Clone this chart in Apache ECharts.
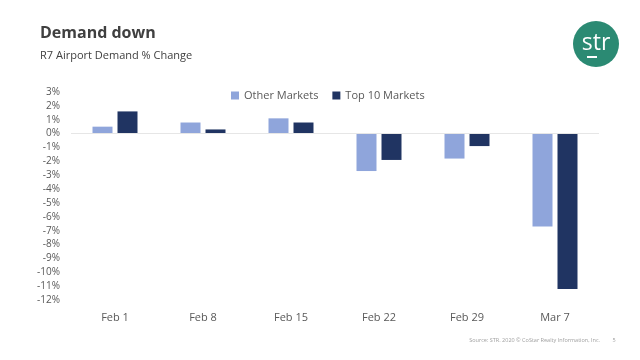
<!DOCTYPE html>
<html>
<head>
<meta charset="utf-8">
<script src="https://cdn.jsdelivr.net/npm/echarts@6/dist/echarts.min.js"></script>
<style>html,body{margin:0;padding:0;background:#fff;}#c{width:640px;height:360px;}</style>
</head>
<body>
<div id="c"></div>
<script>
var categories = ['Feb 1', 'Feb 8', 'Feb 15', 'Feb 22', 'Feb 29', 'Mar 7'];
var otherMarkets = [0.5, 0.8, 1.1, -2.7, -1.8, -6.7];
var top10Markets = [1.6, 0.3, 0.8, -1.9, -0.9, -11.2];
var seriesNames = ['Other Markets', 'Top 10 Markets'];

var chart = echarts.init(document.getElementById('c'));
var font = 'Open Sans';
chart.setOption({
  animation: false,
  backgroundColor: '#ffffff',
  title: [
    { text: 'Demand down', left: 35, top: 20, textStyle: { fontFamily: font, fontSize: 16, fontWeight: 'bold', color: '#404040' } },
    { text: 'R7 Airport Demand % Change', left: 35, top: 45, textStyle: { fontFamily: font, fontSize: 11, fontWeight: 'normal', color: '#404040' } }
  ],
  graphic: [
    { type: 'circle', shape: { cx: 596, cy: 44, r: 23 }, style: { fill: '#2b8a73' } },
    { type: 'text', x: 596, y: 43, style: { text: 'str', fill: '#ffffff', font: '500 23px "Open Sans"', align: 'center', verticalAlign: 'middle' } },
    { type: 'rect', shape: { x: 587, y: 56, width: 10, height: 2 }, style: { fill: '#ffffff' } },
    { type: 'text', x: 600, y: 340, style: { text: 'Source: STR. 2020 \u00a9 CoStar Realty Information, Inc.', fill: '#a0a0a0', font: '5.5px "Open Sans"', align: 'right', verticalAlign: 'middle' } },
    { type: 'text', x: 614, y: 340, style: { text: '5', fill: '#a0a0a0', font: '5.5px "Open Sans"', align: 'center', verticalAlign: 'middle' } }
  ],
  legend: {
    data: seriesNames,
    top: 85,
    left: 226,
    itemWidth: 8,
    itemHeight: 8,
    itemGap: 14,
    icon: 'rect',
    textStyle: { fontFamily: font, fontSize: 11, color: '#595959' }
  },
  grid: { left: 71, right: 41, top: 92, bottom: 60, containLabel: false },
  xAxis: {
    type: 'category',
    data: categories,
    position: 'bottom',
    axisLine: { show: false },
    axisTick: { show: false },
    axisLabel: { show: false }
  },
  yAxis: {
    type: 'value',
    min: -12,
    max: 3,
    interval: 1,
    axisLine: { show: false },
    axisTick: { show: false },
    splitLine: { show: false },
    axisLabel: { formatter: '{value}%', fontFamily: font, fontSize: 10, color: '#595959', margin: 11 }
  },
  series: [
    {
      name: seriesNames[0], type: 'bar', data: otherMarkets, barWidth: 20, barGap: '25%',
      itemStyle: { color: '#8fa5db' },
      markLine: {
        silent: true, symbol: 'none', label: { show: false },
        lineStyle: { color: '#e6e6e6', width: 1, type: 'solid' },
        data: [{ yAxis: 0 }]
      }
    },
    { name: seriesNames[1], type: 'bar', data: top10Markets, barWidth: 20, itemStyle: { color: '#203462' } },
    {
      type: 'custom', silent: true, data: categories.map(function (c, i) { return [i]; }),
      renderItem: function (params, api) {
        var p = api.coord([api.value(0), -12]);
        return { type: 'text', x: p[0], y: 318, style: { text: categories[api.value(0)], fill: '#595959', font: '11px "Open Sans"', align: 'center', verticalAlign: 'middle' } };
      }
    }
  ]
});
</script>
</body>
</html>
